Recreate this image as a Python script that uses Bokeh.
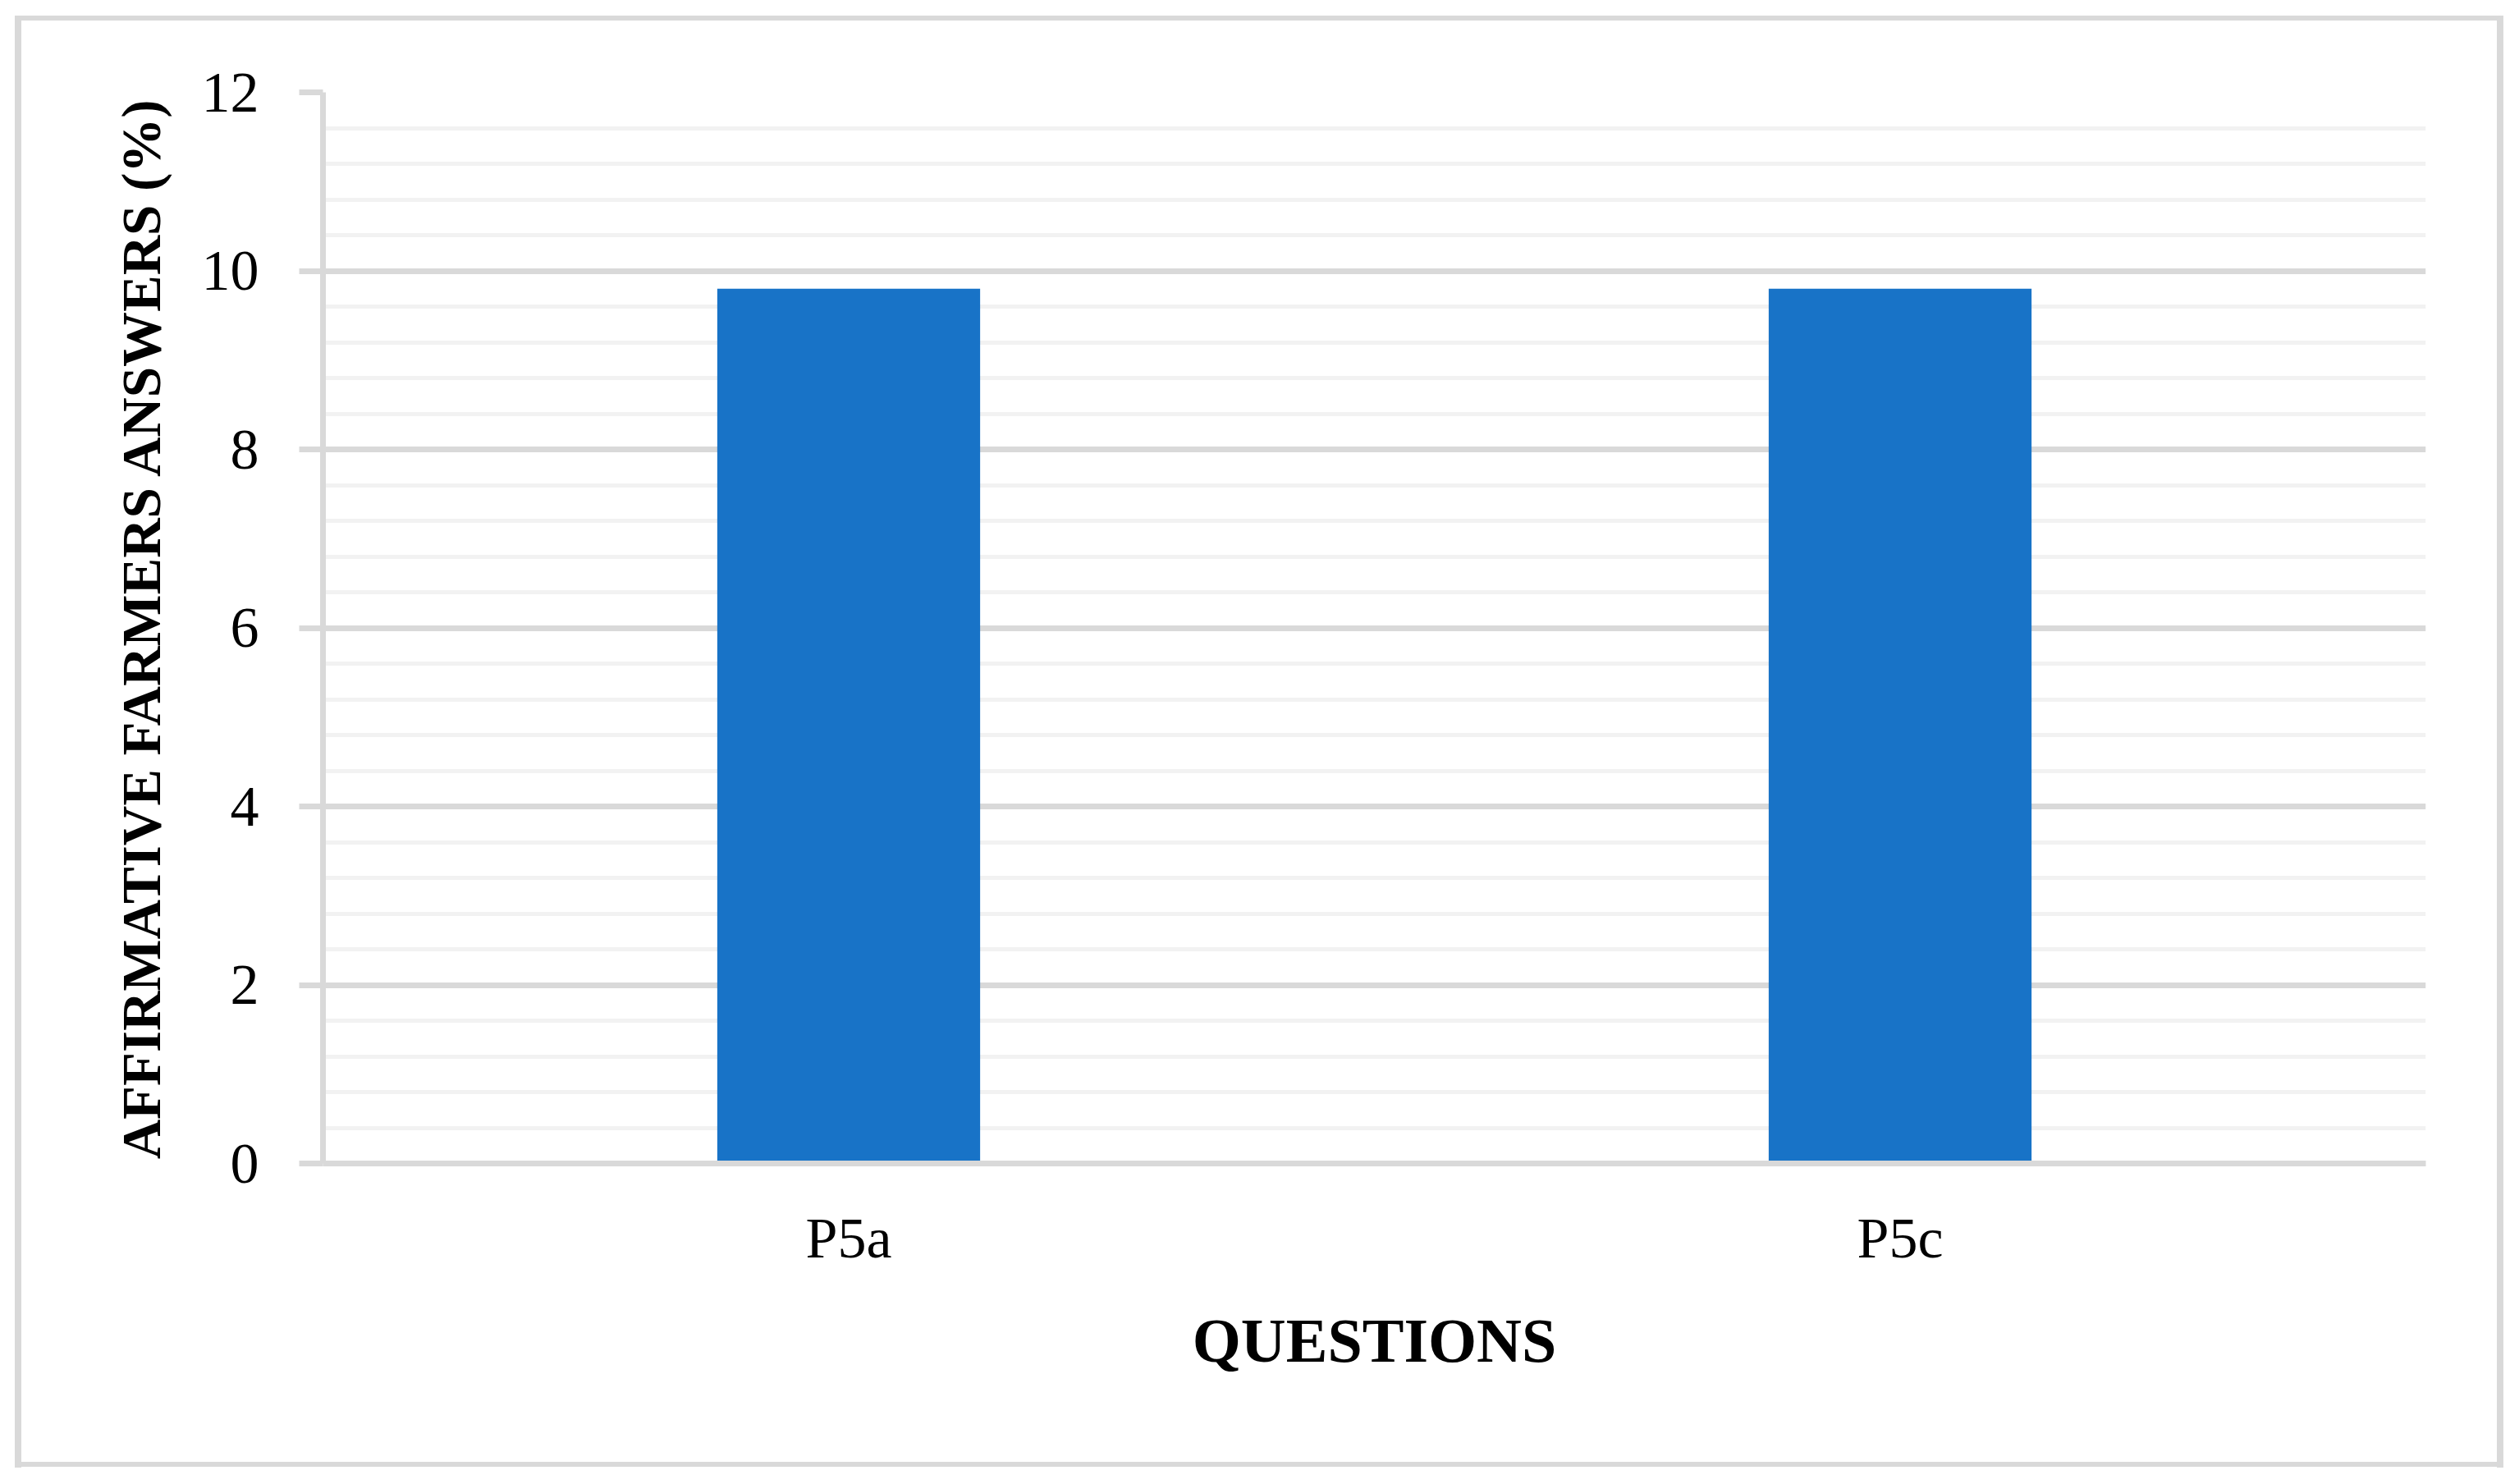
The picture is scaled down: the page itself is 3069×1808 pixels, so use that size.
from bokeh.plotting import figure
from bokeh.models import Range1d, FactorRange, FixedTicker, ColumnDataSource
from bokeh.embed import file_html
from bokeh.resources import INLINE

# ---- data ----
questions = ["P5a", "P5c"]
affirmative_pct = [9.8, 9.8]
y_tick_values = [0, 2, 4, 6, 8, 10, 12]
y_minor_values = [0.4, 0.8, 1.2, 1.6, 2.4, 2.8, 3.2, 3.6, 4.4, 4.8, 5.2, 5.6,
                  6.4, 6.8, 7.2, 7.6, 8.4, 8.8, 9.2, 9.6, 10.4, 10.8, 11.2, 11.6]
x_title = "QUESTIONS"
y_title = "AFFIRMATIVE FARMERS ANSWERS (%)"

FONT = "Liberation Serif"
GRID_MAJOR = "#d9d9d9"
GRID_MINOR = "#f2f2f2"
BAR = "#1873c7"

W, H = 3053, 1792
p = figure(
    x_range=FactorRange(*questions, range_padding=0),
    y_range=Range1d(0, 12),
    width=W, height=H,
    output_backend="svg", toolbar_location=None,
    min_border_left=393, min_border_right=98,
    min_border_top=112, min_border_bottom=375,
)
p.outline_line_color = None
p.background_fill_color = "white"
p.border_fill_color = None

# outer chart border drawn as CSS backgrounds behind the (transparent) canvas margins
g = "linear-gradient(#d9d9d9,#d9d9d9)"
p.styles = {
    "background": (
        f"{g} 18px 19px / 8px 1769px no-repeat, "
        f"{g} 3042px 19px / 8px 1769px no-repeat, "
        f"{g} 18px 19px / 3032px 6px no-repeat, "
        f"{g} 18px 1781px / 3032px 6px no-repeat, "
        "white"
    )
}

src = ColumnDataSource(dict(q=questions, v=affirmative_pct))
p.vbar(x="q", top="v", width=0.25, source=src, fill_color=BAR, line_color=None)

# grid
p.xgrid.visible = False
p.ygrid.grid_line_color = GRID_MAJOR
p.ygrid.grid_line_width = 7
p.ygrid.minor_grid_line_color = GRID_MINOR
p.ygrid.minor_grid_line_width = 5

# y axis
yax = p.yaxis[0]
yax.ticker = FixedTicker(ticks=y_tick_values, minor_ticks=y_minor_values)
yax.axis_line_color = GRID_MAJOR
yax.axis_line_width = 7
yax.major_tick_line_color = GRID_MAJOR
yax.major_tick_line_width = 7
yax.major_tick_out = 29
yax.major_tick_in = 0
yax.minor_tick_line_color = None
yax.major_label_standoff = 49
yax.major_label_text_font = FONT
yax.major_label_text_font_size = "70px"
yax.major_label_text_color = "black"
yax.axis_label = y_title
yax.axis_label_text_font = FONT
yax.axis_label_text_font_size = "67px"
yax.axis_label_text_font_style = "bold"
yax.axis_label_text_color = "black"
yax.axis_label_standoff = 34

# x axis
xax = p.xaxis[0]
xax.axis_line_color = GRID_MAJOR
xax.axis_line_width = 7
xax.major_tick_line_color = None
xax.major_tick_out = 0
xax.major_tick_in = 0
xax.minor_tick_line_color = None
xax.major_label_standoff = 52
xax.major_label_text_font = FONT
xax.major_label_text_font_size = "70px"
xax.major_label_text_color = "black"
xax.axis_label = x_title
xax.axis_label_text_font = FONT
xax.axis_label_text_font_size = "76px"
xax.axis_label_text_font_style = "bold"
xax.axis_label_text_color = "black"
xax.axis_label_standoff = 41

open("out.html", "w").write(file_html(p, INLINE))
